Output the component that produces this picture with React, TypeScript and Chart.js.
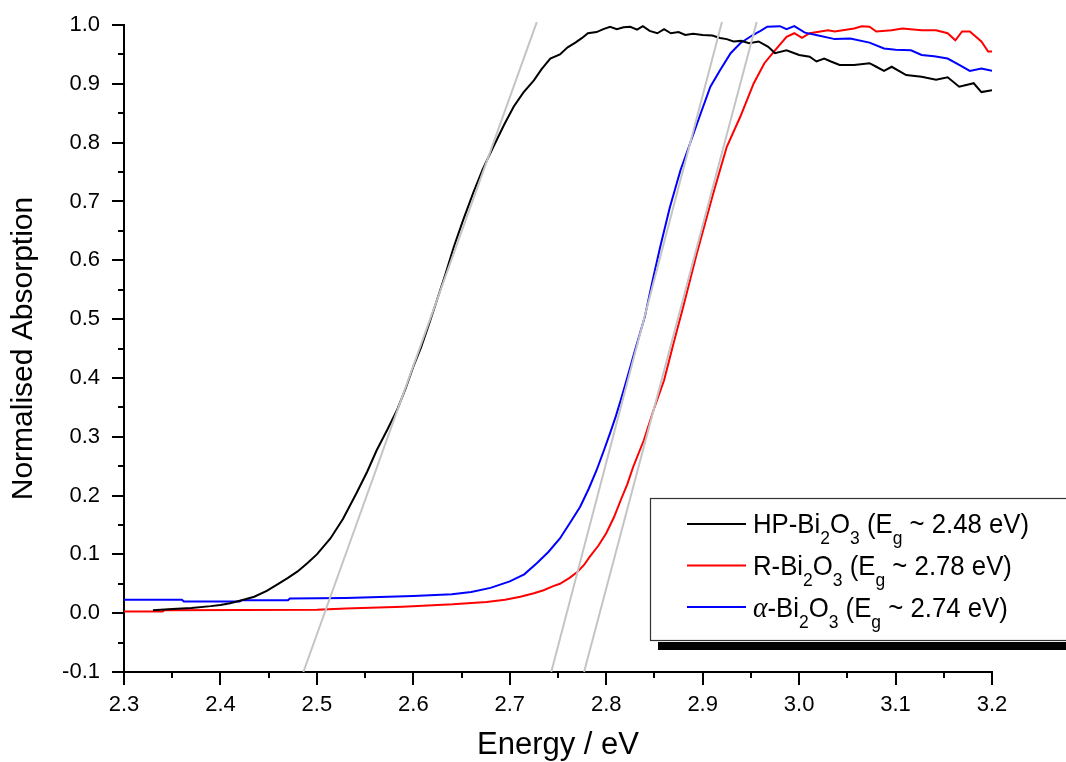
import React, { useEffect, useRef } from "react";
import { Chart, registerables } from "chart.js";

Chart.register(...registerables);

const FONT = '"Liberation Sans", Arial, Helvetica, sans-serif';

// ---------- data ----------
const hpEnergy = [
  2.33, 2.35, 2.37, 2.39, 2.4, 2.41, 2.422, 2.435, 2.448, 2.46, 2.47, 2.48, 2.49, 2.5,
  2.514, 2.527, 2.541, 2.552, 2.562, 2.573, 2.583, 2.592, 2.6, 2.608, 2.616, 2.624, 2.633,
  2.642, 2.652, 2.662, 2.672, 2.683, 2.694, 2.704, 2.714, 2.725, 2.733, 2.742, 2.752, 2.76,
  2.768, 2.775, 2.781, 2.79, 2.797, 2.804, 2.811, 2.818, 2.825, 2.832, 2.838, 2.845, 2.853,
  2.86, 2.867, 2.875, 2.882, 2.89, 2.9, 2.91, 2.918, 2.925, 2.932, 2.94, 2.948, 2.958, 2.968,
  2.975, 2.987, 3.0, 3.011, 3.018, 3.026, 3.033, 3.042, 3.057, 3.073, 3.08, 3.088, 3.096,
  3.111, 3.127, 3.142, 3.154, 3.166, 3.181, 3.189, 3.2,
];
const hpAbs = [
  0.005, 0.007, 0.009, 0.012, 0.014, 0.017, 0.022, 0.028, 0.038, 0.05, 0.06, 0.071, 0.085, 0.1,
  0.127, 0.16, 0.204, 0.24, 0.277, 0.312, 0.345, 0.382, 0.419, 0.452, 0.49, 0.53, 0.575,
  0.623, 0.67, 0.714, 0.755, 0.793, 0.83, 0.861, 0.885, 0.906, 0.925, 0.943, 0.95, 0.962,
  0.97, 0.978, 0.986, 0.988, 0.993, 0.997, 0.993, 0.996, 0.997, 0.992, 0.998, 0.99, 0.986,
  0.993, 0.986, 0.988, 0.983, 0.985, 0.983, 0.982, 0.978, 0.976, 0.972, 0.973, 0.969, 0.972, 0.963,
  0.952, 0.957, 0.949, 0.946, 0.938, 0.943, 0.938, 0.932, 0.932, 0.935, 0.929, 0.922, 0.929,
  0.915, 0.912, 0.907, 0.911, 0.895, 0.901, 0.886, 0.889,
];

const rEnergy = [
  2.3, 2.34, 2.342, 2.5, 2.53, 2.589, 2.641, 2.676, 2.695, 2.711, 2.725, 2.735, 2.745, 2.752,
  2.762, 2.77, 2.777, 2.783, 2.792, 2.8, 2.808, 2.815, 2.822, 2.828, 2.839, 2.849, 2.86, 2.87,
  2.88, 2.894, 2.911, 2.925, 2.939, 2.953, 2.964, 2.975, 2.987, 2.995, 3.003, 3.011, 3.03,
  3.037, 3.057, 3.065, 3.073, 3.08, 3.096, 3.107, 3.127, 3.142, 3.154, 3.162, 3.169, 3.177,
  3.189, 3.196, 3.2,
];
const rAbs = [
  0.003, 0.003, 0.005, 0.006, 0.008, 0.011, 0.015, 0.019, 0.023, 0.028, 0.034, 0.039, 0.046, 0.05,
  0.06, 0.07, 0.082, 0.096, 0.115, 0.136, 0.163, 0.192, 0.22, 0.249, 0.294, 0.345, 0.396, 0.46,
  0.522, 0.612, 0.714, 0.793, 0.844, 0.901, 0.935, 0.957, 0.98, 0.986, 0.978, 0.986, 0.991,
  0.989, 0.994, 0.998, 0.997, 0.989, 0.991, 0.994, 0.991, 0.991, 0.986, 0.974, 0.989, 0.989,
  0.972, 0.955, 0.955,
];

const alphaEnergy = [
  2.3, 2.36, 2.362, 2.42, 2.422, 2.47, 2.472, 2.53, 2.6, 2.64, 2.66, 2.68, 2.7, 2.715, 2.728,
  2.74, 2.752, 2.763, 2.773, 2.782, 2.79, 2.797, 2.804, 2.81, 2.815, 2.82, 2.825, 2.83, 2.835,
  2.84, 2.848, 2.856, 2.866, 2.877, 2.887, 2.898, 2.908, 2.918, 2.929, 2.939, 2.952, 2.96,
  2.967, 2.98, 2.987, 2.995, 3.006, 3.02, 3.037, 3.053, 3.073, 3.088, 3.1, 3.116, 3.127, 3.14,
  3.154, 3.166, 3.177, 3.189, 3.2,
];
const alphaAbs = [
  0.023, 0.023, 0.02, 0.02, 0.022, 0.022, 0.025, 0.026, 0.029, 0.032, 0.036, 0.043, 0.054, 0.066, 0.085,
  0.104, 0.127, 0.155, 0.181, 0.212, 0.243, 0.274, 0.306, 0.335, 0.362, 0.39, 0.419, 0.448, 0.476,
  0.504, 0.565, 0.623, 0.69, 0.753, 0.799, 0.85, 0.895, 0.923, 0.952, 0.969, 0.983, 0.99,
  0.997, 0.998, 0.993, 0.998, 0.987, 0.982, 0.976, 0.977, 0.97, 0.96, 0.958, 0.957, 0.949, 0.947,
  0.943, 0.932, 0.922, 0.926, 0.922,
];

// tangent (band-gap extrapolation) lines
const tangentHpEnergy = [2.486, 2.728];
const tangentAlphaEnergy = [2.743, 2.92];
const tangentREnergy = [2.777, 2.956];
const tangentAbs = [-0.1, 1.005];

// axes
const xMin = 2.3;
const xMax = 3.2;
const yMin = -0.1;
const yMax = 1.0;
const tickStep = 0.1;
const xTitle = "Energy / eV";
const yTitle = "Normalised Absorption";

// legend text: [text, kind] kind 0 = normal, 1 = subscript, 2 = greek
const legendColors = ["#000000", "#ff0000", "#0000ff"];
const legendHp: [string, number][] = [["HP-Bi", 0], ["2", 1], ["O", 0], ["3", 1], [" (E", 0], ["g", 1], [" ~ 2.48 eV)", 0]];
const legendR: [string, number][] = [["R-Bi", 0], ["2", 1], ["O", 0], ["3", 1], [" (E", 0], ["g", 1], [" ~ 2.78 eV)", 0]];
const legendAlpha: [string, number][] = [["\u03b1", 2], ["-Bi", 0], ["2", 1], ["O", 0], ["3", 1], [" (E", 0], ["g", 1], [" ~ 2.74 eV)", 0]];

function toPoints(xs: number[], ys: number[]) {
  return xs.map((x, i) => ({ x, y: ys[i] }));
}

const axisTicksPlugin = {
  id: "axisTicks",
  afterDraw(chart: any) {
    const { ctx, chartArea } = chart;
    const xs = chart.scales.x;
    const ys = chart.scales.y;
    ctx.save();
    ctx.strokeStyle = "#000";
    ctx.lineWidth = 2;
    ctx.beginPath();
    const nx = Math.round((xMax - xMin) / (tickStep / 2));
    for (let i = 0; i <= nx; i++) {
      const v = xMin + (i * tickStep) / 2;
      const px = Math.round(xs.getPixelForValue(v));
      const len = i % 2 === 0 ? 13 : 6;
      ctx.moveTo(px, chartArea.bottom);
      ctx.lineTo(px, chartArea.bottom + len);
    }
    const ny = Math.round((yMax - yMin) / (tickStep / 2));
    for (let i = 0; i <= ny; i++) {
      const v = yMin + (i * tickStep) / 2;
      const py = Math.round(ys.getPixelForValue(v));
      const len = i % 2 === 0 ? 12 : 6;
      ctx.moveTo(chartArea.left - len, py);
      ctx.lineTo(chartArea.left, py);
    }
    ctx.stroke();
    ctx.restore();
  },
};

const legendPlugin = {
  id: "customLegend",
  afterDraw(chart: any) {
    const ctx = chart.ctx as CanvasRenderingContext2D;
    ctx.save();
    // shadow
    ctx.fillStyle = "#000";
    ctx.fillRect(658, 642, 420, 8);
    // box
    ctx.fillStyle = "#fff";
    ctx.fillRect(650, 498, 430, 143);
    ctx.strokeStyle = "#333";
    ctx.lineWidth = 1.2;
    ctx.strokeRect(650.5, 498.5, 430, 142);

    const entries = [legendHp, legendR, legendAlpha];
    const mainFont = `28px ${FONT}`;
    const subFont = `19px ${FONT}`;
    const greekFont = `italic 30px "Liberation Serif", "DejaVu Serif", serif`;
    const sx = 0.92;
    entries.forEach((segs, i) => {
      const lineY = 524 + i * 41.5;
      const baseY = 533 + i * 42;
      ctx.strokeStyle = legendColors[i];
      ctx.lineWidth = 2;
      ctx.beginPath();
      ctx.moveTo(687, lineY);
      ctx.lineTo(746, lineY);
      ctx.stroke();
      ctx.save();
      ctx.translate(753, baseY);
      ctx.scale(sx, 1);
      let x = 0;
      ctx.fillStyle = "#000";
      ctx.textBaseline = "alphabetic";
      ctx.textAlign = "left";
      segs.forEach(([t, kind]) => {
        ctx.font = kind === 1 ? subFont : kind === 2 ? greekFont : mainFont;
        const y = kind === 1 ? 11 : 0;
        ctx.fillText(t, x, y);
        x += ctx.measureText(t).width;
      });
      ctx.restore();
    });
    ctx.restore();
  },
};

export default function App() {
  const ref = useRef<HTMLCanvasElement>(null);
  useEffect(() => {
    document.body.style.margin = "0";
    const lineDs = (label: string, pts: any[], color: string, order: number, width = 2) => ({
      label,
      data: pts,
      borderColor: color,
      backgroundColor: color,
      borderWidth: width,
      pointRadius: 0,
      tension: 0,
      fill: false,
      order,
    });
    const tangentColor = "#c4c4c4";
    const chart = new Chart(ref.current as HTMLCanvasElement, {
      type: "line",
      data: {
        datasets: [
          { ...lineDs("tangent HP", toPoints(tangentHpEnergy, tangentAbs), tangentColor, 0), clip: false },
          { ...lineDs("tangent alpha", toPoints(tangentAlphaEnergy, tangentAbs), tangentColor, 0), clip: false },
          { ...lineDs("tangent R", toPoints(tangentREnergy, tangentAbs), tangentColor, 0), clip: false },
          lineDs("HP-Bi2O3", toPoints(hpEnergy, hpAbs), legendColors[0], 1),
          lineDs("R-Bi2O3", toPoints(rEnergy, rAbs), legendColors[1], 3),
          lineDs("alpha-Bi2O3", toPoints(alphaEnergy, alphaAbs), legendColors[2], 2),
        ] as any,
      },
      options: {
        responsive: false,
        animation: false,
        devicePixelRatio: 1,
        events: [],
        layout: { padding: { top: 25, right: 74, left: 0, bottom: 0 } },
        plugins: {
          legend: { display: false },
          tooltip: { enabled: false },
        },
        scales: {
          x: {
            type: "linear",
            min: xMin,
            max: xMax,
            grid: { display: false, drawTicks: false },
            border: { display: true, color: "#000", width: 2 },
            ticks: {
              stepSize: tickStep,
              padding: 20,
              color: "#000",
              font: { family: FONT, size: 22 },
              callback: (v: any) => Number(v).toFixed(1),
              autoSkip: false,
              maxRotation: 0,
            },
            title: {
              display: true,
              text: xTitle,
              color: "#000",
              font: { family: FONT, size: 31 },
              padding: { top: 0, bottom: -2 },
            },
            afterFit: (s: any) => {
              s.height = 90;
              s.paddingLeft = 0;
              s.paddingRight = 0;
              s.paddingTop = 0;
              s.paddingBottom = 0;
            },
          },
          y: {
            type: "linear",
            min: yMin,
            max: yMax,
            grid: { display: false, drawTicks: false },
            border: { display: true, color: "#000", width: 2 },
            ticks: {
              stepSize: tickStep,
              padding: 24,
              color: "#000",
              font: { family: FONT, size: 22 },
              callback: (v: any) => Number(v).toFixed(1),
              autoSkip: false,
            },
            title: {
              display: true,
              text: yTitle,
              color: "#000",
              font: { family: FONT, size: 30 },
              padding: { top: 6, bottom: 0 },
            },
            afterFit: (s: any) => {
              s.width = 124;
              s.paddingLeft = 0;
              s.paddingRight = 0;
              s.paddingTop = 0;
              s.paddingBottom = 0;
            },
          },
        },
      },
      plugins: [axisTicksPlugin, legendPlugin],
    } as any);
    return () => chart.destroy();
  }, []);
  return (
    <canvas
      ref={ref}
      width={1066}
      height={762}
      style={{ position: "absolute", left: 0, top: 0, display: "block" }}
    />
  );
}
